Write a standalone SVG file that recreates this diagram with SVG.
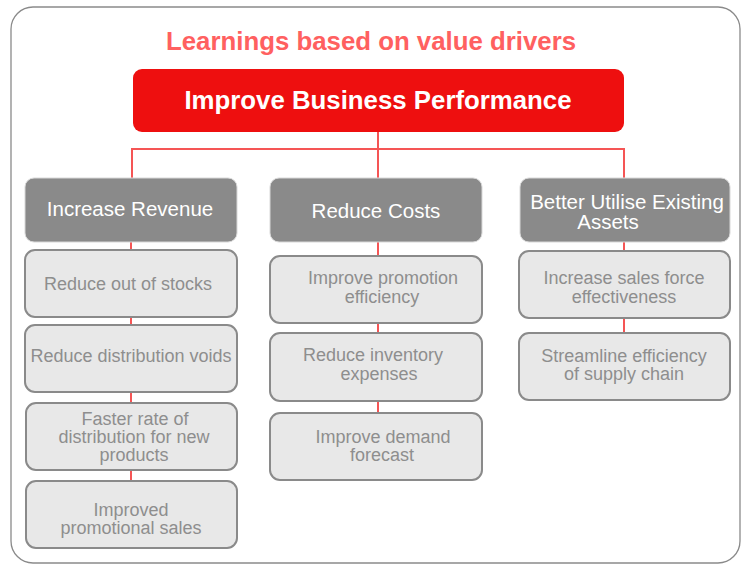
<svg xmlns="http://www.w3.org/2000/svg" width="742" height="564" viewBox="0 0 742 564">
<style>
text{font-family:"Liberation Sans",Arial,sans-serif;text-anchor:middle}
.title{fill:#FF6060;font-weight:bold;font-size:25.8px}
.main{fill:#EE0F0F}
.maint{fill:#fff;font-weight:bold;font-size:25.8px}
.hdr{fill:#8A8A8A;stroke:#d8d8d8;stroke-width:1}
.hdrt{fill:#fff;font-size:20.5px}
.sub{fill:#E8E8E8;stroke:#8A8A8A;stroke-width:2}
.subt{fill:#8E8E8E;font-size:18px}
.con{stroke:#F55555;stroke-width:2;fill:none}
</style>
<rect x="11" y="7" width="729" height="556" rx="22" fill="#fff" stroke="#8A8A8A" stroke-width="1.3"/>
<text class="title" x="371" y="50">Learnings based on value drivers</text>
<g id="connectors">
<path class="con" d="M378 132V149M132 178V149H624V178M378 149V178"/>
<path class="con" d="M131 242V250M131 317V325M131 392V403M131 470V481"/>
<path class="con" d="M378 242V256M378 323V333M378 401V413"/>
<path class="con" d="M624 242V251M624 318V333"/>
</g>
<g id="root"><rect class="main" x="133" y="69" width="491" height="63" rx="9"/><text class="maint" x="378" y="109">Improve Business Performance</text></g>
<g id="increase-revenue"><rect class="hdr" x="25" y="178" width="212" height="64" rx="9"/><text class="hdrt" x="130" y="216">Increase Revenue</text></g>
<g id="reduce-costs"><rect class="hdr" x="270" y="178" width="212" height="64" rx="9"/><text class="hdrt" x="376" y="218">Reduce Costs</text></g>
<g id="better-utilise"><rect class="hdr" x="520" y="178" width="210" height="64" rx="9"/><text class="hdrt" x="627" y="209">Better Utilise Existing</text><text class="hdrt" x="608" y="229">Assets</text></g>
<g id="r1"><rect class="sub" x="25" y="250" width="212" height="67" rx="10"/><text class="subt" x="128" y="290">Reduce out of stocks</text></g>
<g id="r2"><rect class="sub" x="25" y="325" width="212" height="67" rx="10"/><text class="subt" x="131" y="362">Reduce distribution voids</text></g>
<g id="r3"><rect class="sub" x="26" y="403" width="211" height="67" rx="10"/><text class="subt" x="135" y="425">Faster rate of</text><text class="subt" x="134" y="443">distribution for new</text><text class="subt" x="134" y="461">products</text></g>
<g id="r4"><rect class="sub" x="26" y="481" width="211" height="67" rx="10"/><text class="subt" x="131" y="516">Improved</text><text class="subt" x="131" y="534">promotional sales</text></g>
<g id="c1"><rect class="sub" x="270" y="256" width="212" height="67" rx="10"/><text class="subt" x="383" y="284">Improve promotion</text><text class="subt" x="382" y="303">efficiency</text></g>
<g id="c2"><rect class="sub" x="270" y="333" width="212" height="68" rx="10"/><text class="subt" x="373" y="361">Reduce inventory</text><text class="subt" x="379" y="380">expenses</text></g>
<g id="c3"><rect class="sub" x="270" y="413" width="212" height="67" rx="10"/><text class="subt" x="383" y="443">Improve demand</text><text class="subt" x="382" y="461">forecast</text></g>
<g id="a1"><rect class="sub" x="519" y="251" width="211" height="67" rx="10"/><text class="subt" x="624" y="284">Increase sales force</text><text class="subt" x="624" y="303">effectiveness</text></g>
<g id="a2"><rect class="sub" x="519" y="333" width="211" height="67" rx="10"/><text class="subt" x="624" y="362">Streamline efficiency</text><text class="subt" x="624" y="380">of supply chain</text></g>
</svg>
